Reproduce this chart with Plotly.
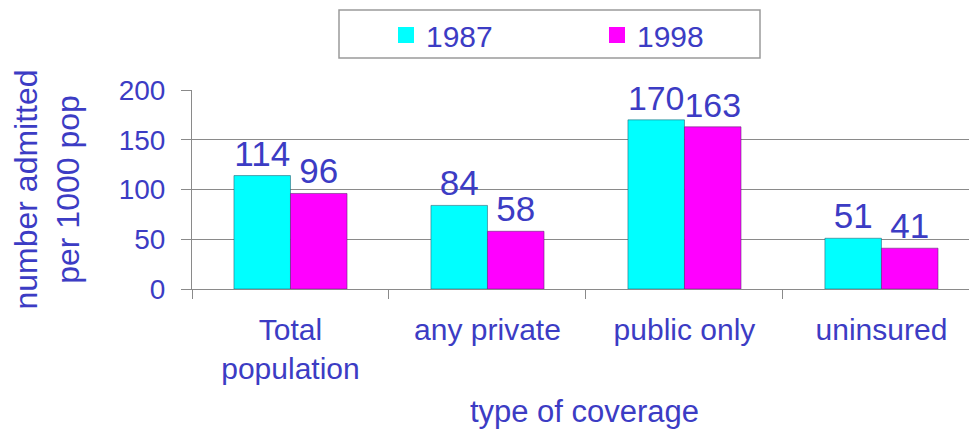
import plotly.graph_objects as go

categories = ["Total<br>population", "any private", "public only", "uninsured"]
series_1987 = [114, 84, 170, 51]
series_1998 = [96, 58, 163, 41]
y_ticks = [0, 50, 100, 150, 200]

TXT = "#3c3cc4"
FONT = "Liberation Sans, Arial, sans-serif"
GRID = "#8a8a8a"

# the page body adds an 8px offset; figure coordinates = reference pixels - 8
OFF = 8
W, H = 977 - OFF, 429 - OFF
L, R, T, B = 192 - OFF, 977 - OFF, 90 - OFF, 289 - OFF


def px_x(p):
    return (p - OFF - L) / (R - L)


def px_y(p):
    return (B - (p - OFF)) / (B - T)


fig = go.Figure()
fig.add_trace(go.Bar(
    x=categories, y=series_1987, name="1987",
    marker=dict(color="#00ffff", line=dict(color="rgba(40,90,110,0.55)", width=1)),
    text=[str(v) for v in series_1987], textposition="outside",
    textfont=dict(color=TXT, size=35, family=FONT),
    cliponaxis=False, showlegend=False,
))
fig.add_trace(go.Bar(
    x=categories, y=series_1998, name="1998",
    marker=dict(color="#ff00ff", line=dict(color="rgba(90,40,110,0.55)", width=1)),
    text=[str(v) for v in series_1998], textposition="outside",
    textfont=dict(color=TXT, size=35, family=FONT),
    cliponaxis=False, showlegend=False,
))
# legend entries
for name, col in [("1987", "#00ffff"), ("1998", "#ff00ff")]:
    fig.add_trace(go.Scatter(
        x=[None], y=[None], mode="markers", name=name,
        marker=dict(symbol="square", size=18, color=col),
    ))

fig.add_shape(
    type="rect", xref="paper", yref="paper",
    x0=px_x(339), x1=px_x(760), y0=px_y(58), y1=px_y(10),
    line=dict(color="#9a9a9a", width=1.5), fillcolor="rgba(0,0,0,0)",
)

fig.update_layout(
    width=W, height=H,
    margin=dict(l=L, r=W - R, t=T, b=H - B),
    paper_bgcolor="white", plot_bgcolor="white",
    font=dict(family=FONT, color=TXT, size=28),
    barmode="group", bargap=0.426, bargroupgap=0,
    legend=dict(
        orientation="h", xref="container", yref="container",
        x=(386 - OFF) / W, y=1 - (35 - OFF) / H, xanchor="left", yanchor="middle",
        borderwidth=0, bgcolor="rgba(0,0,0,0)",
        font=dict(size=30, color=TXT, family=FONT),
        entrywidth=166, entrywidthmode="pixels",
    ),
    xaxis=dict(
        range=[-0.5, 3.485], showline=True, linecolor=GRID, linewidth=1,
        ticks="outside", ticklen=9, tickcolor=GRID, tickson="boundaries",
        tickfont=dict(size=30, color=TXT, family=FONT),
        ticklabelstandoff=14, automargin=False,
        title=dict(text="type of coverage", font=dict(size=31, color=TXT, family=FONT), standoff=18),
    ),
    yaxis=dict(
        range=[0, 200], tickvals=y_ticks, showgrid=True, gridcolor=GRID, gridwidth=1,
        showline=True, linecolor=GRID, linewidth=1,
        ticks="outside", ticklen=10, tickcolor=GRID,
        tickfont=dict(size=28, color=TXT, family=FONT),
        ticklabelstandoff=10, zeroline=False, automargin=False,
        title=dict(text="number admitted<br>per 1000 pop", font=dict(size=32, color=TXT, family=FONT), standoff=30),
    ),
)

fig.write_html("out.html")
